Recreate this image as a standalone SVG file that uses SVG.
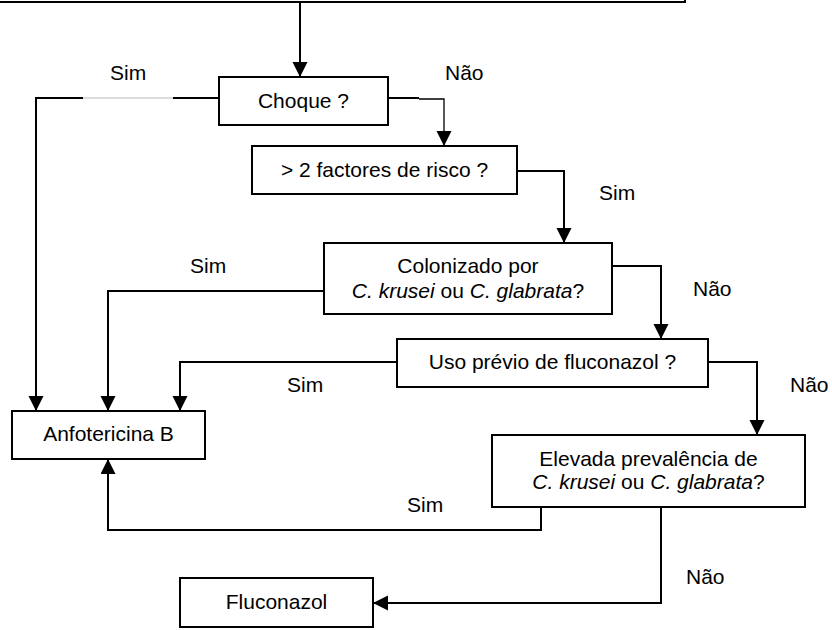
<svg xmlns="http://www.w3.org/2000/svg" width="832" height="630" viewBox="0 0 832 630">
<style>
.box{fill:#fff;stroke:#000;stroke-width:2}
.c{fill:none;stroke:#000;stroke-width:2}
.thin{fill:none;stroke:#000;stroke-width:1.3}
text{font-family:"Liberation Sans",Arial,sans-serif;font-size:21px;fill:#000}
.m{text-anchor:middle}
.i{font-style:italic}
</style>
<defs>
<marker id="ah" markerUnits="userSpaceOnUse" markerWidth="16" markerHeight="16" refX="15" refY="7.5" orient="auto">
<path d="M0,0 L15,7.5 L0,15 Z" fill="#000"/>
</marker>
</defs>
<g id="connectors">
<path class="c" d="M300,3 V77" marker-end="url(#ah)"/>
<path class="c" d="M219,98 H173"/>
<path d="M173,98 H83" fill="none" stroke="#bbb" stroke-width="1"/>
<path class="c" d="M83,98 H36 V411" marker-end="url(#ah)"/>
<path class="c" d="M388,98 H419"/>
<path class="thin" d="M419,99 H444 V146" marker-end="url(#ah)"/>
<path class="c" d="M517,171 H564 V243" marker-end="url(#ah)"/>
<path class="c" d="M324,291 H108 V411" marker-end="url(#ah)"/>
<path class="c" d="M612,266 H661 V339" marker-end="url(#ah)"/>
<path class="c" d="M397,362 H180 V411" marker-end="url(#ah)"/>
<path class="c" d="M708,362 H757 V435" marker-end="url(#ah)"/>
<path class="c" d="M541,507 V530 H108 V459" marker-end="url(#ah)"/>
<path class="c" d="M661,507 V603 H373" marker-end="url(#ah)"/>
<text x="110" y="80">Sim</text>
<text x="445" y="80">Não</text>
<text x="599" y="200">Sim</text>
<text x="190" y="273">Sim</text>
<text x="693" y="296">Não</text>
<text x="287" y="392">Sim</text>
<text x="790" y="392">Não</text>
<text x="407" y="512">Sim</text>
<text x="686" y="584">Não</text>
</g>
<g id="top">
<rect class="box" x="-10" y="-20" width="695" height="22"/>
</g>
<g id="choque">
<rect class="box" x="219" y="77" width="169" height="48"/>
<text class="m" x="303.5" y="108">Choque ?</text>
</g>
<g id="factores">
<rect class="box" x="252" y="146" width="265" height="48"/>
<text class="m" x="384.5" y="177">&gt; 2 factores de risco ?</text>
</g>
<g id="colonizado">
<rect class="box" x="324" y="243" width="288" height="71"/>
<text class="m" x="468" y="273">Colonizado por</text>
<text class="m" x="468" y="298"><tspan class="i">C. krusei</tspan> ou <tspan class="i">C. glabrata</tspan>?</text>
</g>
<g id="uso">
<rect class="box" x="397" y="339" width="311" height="48"/>
<text class="m" x="552.5" y="369">Uso prévio de fluconazol ?</text>
</g>
<g id="anfotericina">
<rect class="box" x="12" y="411" width="193" height="48"/>
<text class="m" x="108.5" y="441">Anfotericina B</text>
</g>
<g id="elevada">
<rect class="box" x="492" y="435" width="313" height="72"/>
<text class="m" x="648.5" y="466">Elevada prevalência de</text>
<text class="m" x="648.5" y="489"><tspan class="i">C. krusei</tspan> ou <tspan class="i">C. glabrata</tspan>?</text>
</g>
<g id="fluconazol">
<rect class="box" x="180" y="578" width="193" height="49"/>
<text class="m" x="276.5" y="609">Fluconazol</text>
</g>
</svg>
